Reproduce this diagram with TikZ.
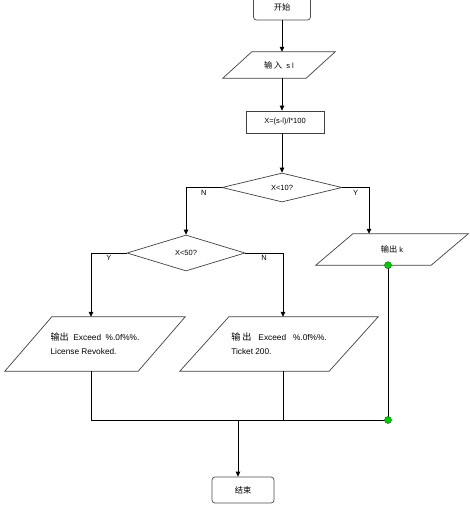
\documentclass[tikz,border=0pt]{standalone}
\usepackage{fontspec}
\setmainfont{Liberation Sans}
\newfontfamily\cjk[Scale=1.1]{Noto Sans CJK SC}
\usetikzlibrary{shapes.geometric,arrows.meta,positioning,calc}
\tikzset{
term/.style={draw=black!70,line width=0.7pt,rounded corners=3pt,minimum height=26pt,inner sep=0pt},
proc/.style={draw=black!75,line width=0.7pt,minimum width=78pt,minimum height=22pt,inner sep=0pt},
dec/.style={diamond,draw=black!75,line width=0.7pt,inner sep=0pt},
io/.style={rectangle,inner sep=0pt,align=left},
iobox/.style={draw=black!75,line width=0.7pt},
line/.style={line width=0.8pt},
arr/.style={-{Triangle[length=5pt,width=4.5pt]},line width=0.8pt},
lab/.style={font=\fontsize{7.5}{9}\selectfont,inner sep=2pt},
dot/.style={fill=green!80!black,draw=green!40!black,line width=0.4pt}
}
% parallelogram round a named io node: #1 name, #2 slant
\newcommand\paral[2]{\draw[iobox] (#1.south west) -- ([xshift=#2]#1.north west) -- (#1.north east) -- ([xshift=-#2]#1.south east) -- cycle;}
\begin{document}
\begin{tikzpicture}[x=1pt,y=-1pt,every node/.style={font=\fontsize{7.5}{14}\selectfont}]
\useasboundingbox (0,0) rectangle (470,514);
% boxes
\node[term,minimum width=57pt] (start) at (282,7) {{\cjk 开始}};
\node[io,minimum width=112pt,minimum height=26pt] (inp) at (279,65) {{\cjk 输\,入}\ \ s l};
\node[proc] (calc) at (285,122) {X=(s-l)/l*100};
\node[dec,minimum width=120pt,minimum height=29pt] (d1) at (282,187.5) {X<10?};
\node[dec,minimum width=118pt,minimum height=36pt] (d2) at (186,253) {X<50?};
\node[io,minimum width=152pt,minimum height=31pt] (outk) at (392,249.5) {{\cjk 输出}\ k};
\node[io,minimum width=180pt,minimum height=54pt,font=\fontsize{8.3}{14}\selectfont] (outA) at (95,344) {{\cjk 输出}\ \ Exceed\ \ \%.0f\%\%.\\License Revoked.};
\node[io,minimum width=198pt,minimum height=54pt,font=\fontsize{8.3}{14}\selectfont] (outB) at (279,344) {{\cjk 输\ 出}\ \ \ Exceed\ \ \ \%.0f\%\%.\\Ticket 200.};
\node[term,minimum width=62pt] (stop) at (243,490) {{\cjk 结束}};
\paral{inp}{29pt}
\paral{outk}{37pt}
\paral{outA}{47pt}
\paral{outB}{49pt}
% helper points
\coordinate (kin) at ([xshift=-23pt]outk.north);
\coordinate (ain) at ([xshift=-4pt]outA.north);
\coordinate (bin) at ([xshift=4pt]outB.north);
\coordinate (kdot) at ([xshift=-4pt]outk.south);
\coordinate (mdot) at (kdot |- 0,420);
\coordinate (sin) at ([xshift=-5pt]stop.north);
% connectors
\draw[arr] (start.south) -- (start.south |- inp.north);
\draw[arr] (start.south |- inp.south) -- (start.south |- calc.north);
\draw[arr] (start.south |- calc.south) -- (d1.north);
\draw[arr] (d1.west) -| (d2.north) node[lab,pos=0.25,below] {N};
\draw[arr] (d1.east) -| (kin) node[lab,pos=0.25,below] {Y};
\draw[arr] (d2.west) -| (ain) node[lab,pos=0.25,below] {Y};
\draw[arr] (d2.east) -| (bin) node[lab,pos=0.25,below] {N};
\draw[line] (kdot) -- (mdot) -- (ain |- mdot) -- (ain |- outA.south);
\draw[line] (bin |- outB.south) -- (bin |- mdot);
\draw[arr] (sin |- mdot) -- (sin);
\fill[dot] (kdot) circle (3.5pt);
\fill[dot] (mdot) circle (3.5pt);
\end{tikzpicture}
\end{document}
